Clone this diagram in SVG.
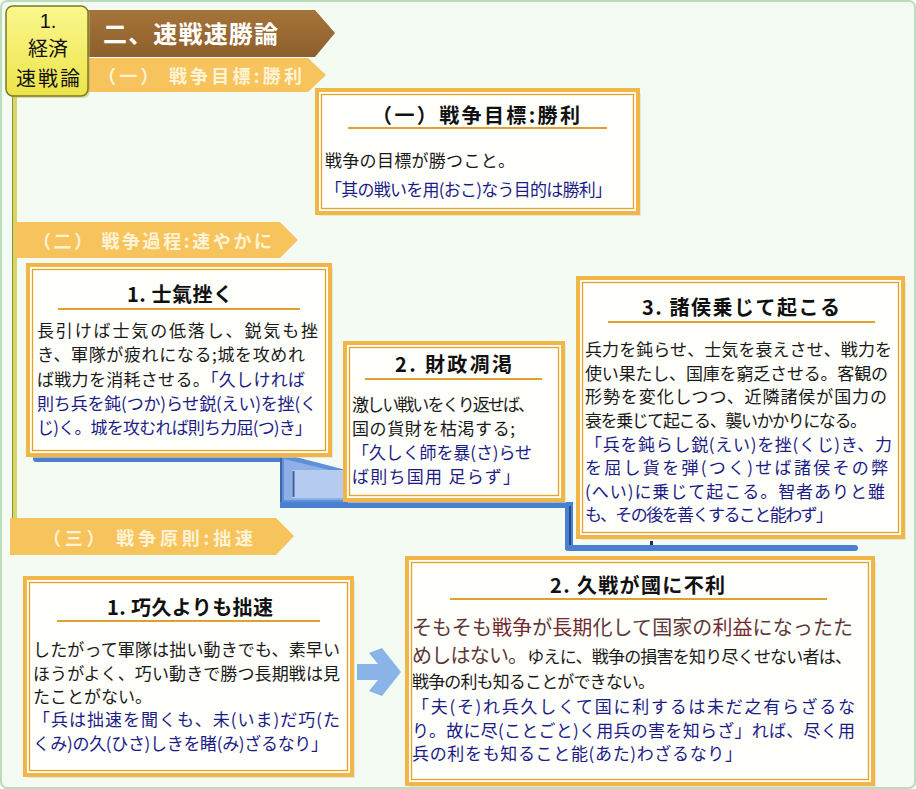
<svg xmlns="http://www.w3.org/2000/svg" width="916" height="789" viewBox="0 0 916 789">
<style>
text{font-family:"Noto Sans CJK JP","Noto Sans",sans-serif}
.ban{font-size:18px;font-weight:bold;fill:#fff3d6}
.ttl{font-size:20px;font-weight:bold;fill:#111}
.bd{font-size:17px;fill:#1a1a1a}
.nv{fill:#1c1c88}
.mr{fill:#5c3838}
.mr2{fill:#722a30}
.box{fill:#fffffb;stroke:#f2b647;stroke-width:4}
.inb{fill:none;stroke:#e3a22c;stroke-width:1.3}
.shd{fill:#d9ddc9;opacity:.6}
.ul{stroke:#e0a030;stroke-width:2}
.bl{fill:#4b7fd0}
.or{fill:#f7c35c}
</style>
<defs>
<linearGradient id="yg" x1="0" y1="0" x2="0" y2="1">
<stop offset="0" stop-color="#fbf78e"/><stop offset="1" stop-color="#ede44a"/>
</linearGradient>
<linearGradient id="bg" x1="0" y1="0" x2="0" y2="1">
<stop offset="0" stop-color="#a5743a"/><stop offset="1" stop-color="#8d5f2b"/>
</linearGradient>
</defs>
<rect x="1" y="1" width="914" height="787" rx="6" fill="#f3fbf3" stroke="#b9deb9" stroke-width="2"/>

<g id="spine">
<rect x="12" y="92" width="5" height="426" fill="#d8d468"/>
<line x1="12.5" y1="92" x2="12.5" y2="518" stroke="#8f8f38" stroke-width="1"/>
</g>

<g id="banner-main">
<polygon points="88,10 315,10 335,33 315,57 88,57" fill="url(#bg)"/>
<text x="103" y="43" font-size="24" font-weight="bold" fill="#fff" textLength="175" lengthAdjust="spacing">二、速戦速勝論</text>
</g>
<g id="banner-1">
<polygon points="88,58 308,58 326,75 308,92 88,92" class="or"/>
<text x="98" y="83" class="ban" textLength="204" lengthAdjust="spacing">（一） 戦争目標:勝利</text>
</g>
<g id="node-keizai">
<rect x="8" y="8" width="82" height="90" rx="7" fill="#bdb86a" opacity=".5"/>
<rect x="6" y="6" width="82" height="90" rx="7" fill="url(#yg)" stroke="#7c7a22" stroke-width="1.5"/>
<text x="48" y="28" font-size="20" fill="#111" text-anchor="middle" style="font-family:'Liberation Sans',sans-serif">1.</text>
<text x="48" y="56" font-size="20" fill="#111" text-anchor="middle">経済</text>
<text x="48" y="86" font-size="20" fill="#111" text-anchor="middle" textLength="64" lengthAdjust="spacing">速戦論</text>
</g>

<g id="node-goal">
<rect x="320" y="93" width="321" height="123" class="shd"/>
<rect x="317" y="90" width="321" height="123" class="box"/>
<rect x="321.5" y="94.5" width="312" height="114" class="inb"/>
<text x="372" y="123" class="ttl" textLength="208" lengthAdjust="spacing">（一）戦争目標:勝利</text>
<line x1="348" y1="128" x2="607" y2="128" class="ul"/>
<text x="325" y="167" class="bd" textLength="190" lengthAdjust="spacing">戦争の目標が勝つこと。</text>
<text x="325" y="196" class="bd nv" textLength="287" lengthAdjust="spacing">「其の戦いを用(おこ)なう目的は勝利」</text>
</g>

<g id="banner-2">
<polygon points="15,222 280,222 298,240 280,258 15,258" class="or"/>
<text x="33" y="248" class="ban" textLength="239" lengthAdjust="spacing">（二） 戦争過程:速やかに</text>
</g>

<g id="connectors">
<rect x="33" y="455" width="255" height="7" rx="3" class="bl"/>
<polygon points="280,455 288,455 346,470 346,508 280,508" fill="#5f8fd6"/>
<polygon points="284,459 346,474 346,500 284,500" fill="#8fb0e6"/>
<rect x="292" y="470" width="54" height="28" fill="#b5cbef"/>
<line x1="293.5" y1="471" x2="293.5" y2="497" stroke="#3b5f9c" stroke-width="2"/>
<line x1="281" y1="456" x2="281" y2="507" stroke="#3d68b0" stroke-width="2"/>
<rect x="280" y="502" width="292" height="6" class="bl"/>
<rect x="565" y="502" width="8" height="48" class="bl"/>
<line x1="570" y1="506" x2="570" y2="546" stroke="#1c3a70" stroke-width="1.5"/>
<rect x="565" y="545" width="293" height="6" rx="3" class="bl"/>
<rect x="365" y="497" width="3" height="4" fill="#203050"/>
<rect x="650" y="541" width="3" height="4" fill="#203050"/>
</g>

<g id="node-shiki">
<rect x="31" y="268" width="302" height="190" class="shd"/>
<rect x="28" y="265" width="302" height="190" class="box"/>
<rect x="32.5" y="269.5" width="293" height="181" class="inb"/>
<text x="127" y="302" class="ttl" textLength="106" lengthAdjust="spacing">1. 士氣挫く</text>
<line x1="58" y1="309" x2="300" y2="309" class="ul"/>
<text x="37" y="337" class="bd" textLength="281" lengthAdjust="spacing">長引けば士気の低落し、鋭気も挫</text>
<text x="37" y="361" class="bd" textLength="268" lengthAdjust="spacing">き、軍隊が疲れになる;城を攻めれ</text>
<text x="37" y="386" class="bd" textLength="268" lengthAdjust="spacing">ば戦力を消耗させる。<tspan class="nv">「久しければ</tspan></text>
<text x="37" y="410" class="bd nv" textLength="280" lengthAdjust="spacing">則ち兵を鈍(つか)らせ鋭(えい)を挫(く</text>
<text x="37" y="434" class="bd nv" textLength="275" lengthAdjust="spacing">じ)く。城を攻むれば則ち力屈(つ)き」</text>
</g>

<g id="node-zaisei">
<rect x="348" y="346" width="218" height="157" class="shd"/>
<rect x="345" y="343" width="218" height="157" class="box"/>
<rect x="349.5" y="347.5" width="209" height="148" class="inb"/>
<text x="395" y="372" class="ttl" textLength="117" lengthAdjust="spacing">2. 財政凋渇</text>
<line x1="365" y1="379" x2="542" y2="379" class="ul"/>
<text x="352" y="411" class="bd" textLength="183" lengthAdjust="spacing">激しい戦いをくり返せば、</text>
<text x="352" y="435" class="bd" textLength="163" lengthAdjust="spacing">国の貨財を枯渇する;</text>
<text x="352" y="459" class="bd nv" textLength="180" lengthAdjust="spacing">「久しく師を暴(さ)らせ</text>
<text x="352" y="483" class="bd nv" textLength="168" lengthAdjust="spacing">ば則ち国用 足らず」</text>
</g>

<g id="node-shoko">
<rect x="581" y="281" width="325" height="259" class="shd"/>
<rect x="578" y="278" width="325" height="259" class="box"/>
<rect x="582.5" y="282.5" width="316" height="250" class="inb"/>
<text x="642" y="315" class="ttl" textLength="198" lengthAdjust="spacing">3. 諸侯乗じて起こる</text>
<line x1="608" y1="322" x2="875" y2="322" class="ul"/>
<text x="585" y="356" class="bd" textLength="307" lengthAdjust="spacing">兵力を鈍らせ、士気を衰えさせ、戦力を</text>
<text x="585" y="380" class="bd" textLength="303" lengthAdjust="spacing">使い果たし、国庫を窮乏させる。客観の</text>
<text x="585" y="403" class="bd" textLength="302" lengthAdjust="spacing">形勢を変化しつつ、近隣諸侯が国力の</text>
<text x="585" y="427" class="bd" textLength="282" lengthAdjust="spacing">衰を乗じて起こる、襲いかかりになる。</text>
<text x="585" y="451" class="bd nv" textLength="307" lengthAdjust="spacing">「兵を鈍らし鋭(えい)を挫(くじ)き、力</text>
<text x="585" y="474" class="bd nv" textLength="303" lengthAdjust="spacing">を屈し貨を弾(つく)せば諸侯その弊</text>
<text x="585" y="498" class="bd nv" textLength="300" lengthAdjust="spacing">(へい)に乗じて起こる。智者ありと雖</text>
<text x="585" y="521" class="bd nv" textLength="248" lengthAdjust="spacing">も、その後を善くすること能わず」</text>
</g>

<g id="banner-3">
<polygon points="10,518 276,518 294,536 276,555 10,555" class="or"/>
<text x="43" y="545" class="ban" textLength="210" lengthAdjust="spacing">（三） 戦争原則:拙速</text>
</g>

<g id="node-sessoku">
<rect x="28" y="581" width="327" height="197" class="shd"/>
<rect x="25" y="578" width="327" height="197" class="box"/>
<rect x="29.5" y="582.5" width="318" height="188" class="inb"/>
<text x="107" y="615" class="ttl" textLength="166" lengthAdjust="spacing">1. 巧久よりも拙速</text>
<line x1="57" y1="621" x2="320" y2="621" class="ul"/>
<text x="33" y="656" class="bd" textLength="307" lengthAdjust="spacing">したがって軍隊は拙い動きでも、素早い</text>
<text x="33" y="680" class="bd" textLength="307" lengthAdjust="spacing">ほうがよく、巧い動きで勝つ長期戦は見</text>
<text x="33" y="703" class="bd" textLength="119" lengthAdjust="spacing">たことがない。</text>
<text x="33" y="726" class="bd nv" textLength="307" lengthAdjust="spacing">「兵は拙速を聞くも、未(いま)だ巧(た</text>
<text x="33" y="750" class="bd nv" textLength="295" lengthAdjust="spacing">くみ)の久(ひさ)しきを睹(み)ざるなり」</text>
</g>

<g id="arrow">
<polygon points="357,664 378,664 369,653 382,648 401,672 382,696 369,691 378,680 357,680" fill="#8ab4e8"/>
</g>

<g id="node-kyusen">
<rect x="410" y="561" width="466" height="226" class="shd"/>
<rect x="407" y="558" width="466" height="226" class="box"/>
<rect x="411.5" y="562.5" width="457" height="217" class="inb"/>
<text x="550" y="593" class="ttl" textLength="175" lengthAdjust="spacing">2. 久戦が國に不利</text>
<line x1="450" y1="599" x2="827" y2="599" class="ul"/>
<text x="412" y="635" font-size="20" class="mr" textLength="441" lengthAdjust="spacing">そもそも<tspan class="mr2">戦争</tspan>が<tspan class="mr2">長期</tspan>化して国家の<tspan class="mr2">利益</tspan>になったた</text>
<text x="412" y="663" class="bd" textLength="440" lengthAdjust="spacing"><tspan class="mr" font-size="20">めしはない。</tspan>ゆえに、戦争の損害を知り尽くせない者は、</text>
<text x="412" y="688" class="bd" textLength="243" lengthAdjust="spacing">戦争の利も知ることができない。</text>
<text x="412" y="713" class="bd nv" textLength="443" lengthAdjust="spacing">「夫(そ)れ兵久しくて国に利するは未だ之有らざるな</text>
<text x="412" y="737" class="bd nv" textLength="443" lengthAdjust="spacing">り。故に尽(ことごと)く用兵の害を知らざ」れば、尽く用</text>
<text x="412" y="760" class="bd nv" textLength="330" lengthAdjust="spacing">兵の利をも知ること能(あた)わざるなり」</text>
</g>
</svg>
